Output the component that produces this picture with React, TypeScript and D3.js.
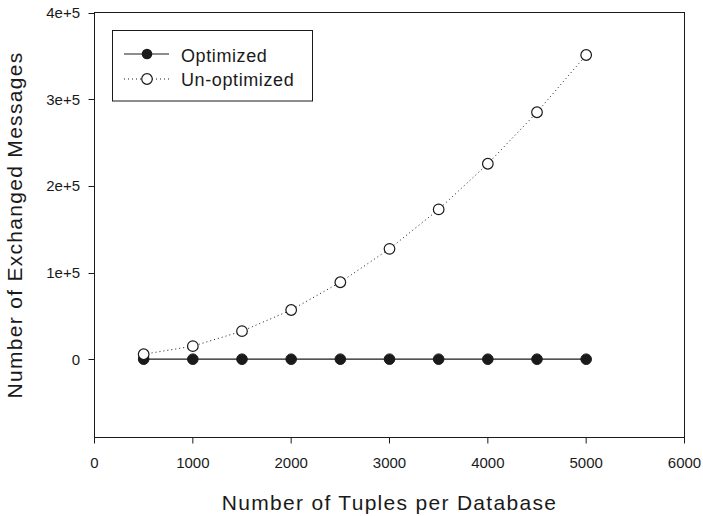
import React from "react";
import * as d3 from "d3";

const tuples = [500, 1000, 1500, 2000, 2500, 3000, 3500, 4000, 4500, 5000];
const optimized = [300, 300, 300, 300, 300, 300, 300, 300, 300, 300];
const unoptimized = [6000, 15300, 32600, 57000, 89000, 127500, 173000, 225600, 285000, 351000];
const xTicks = [0, 1000, 2000, 3000, 4000, 5000, 6000];
const yTicks = [0, 100000, 200000, 300000, 400000];
const yTickLabels = ["0", "1e+5", "2e+5", "3e+5", "4e+5"];
const seriesNames = ["Optimized", "Un-optimized"];

const W = 703, H = 516;
const L = 94.5, R = 684.5, T = 12.5, B = 437.5;
const font = "'Liberation Sans', Arial, sans-serif";

export default function App() {
  const x = d3.scaleLinear().domain([0, 6000]).range([L, R]);
  const y = d3.scaleLinear().domain([-90000, 400000]).range([B, T]);
  const line = d3.line<[number, number]>().x(d => x(d[0])).y(d => y(d[1]));
  const optPts = tuples.map((t, i) => [t, optimized[i]] as [number, number]);
  const unPts = tuples.map((t, i) => [t, unoptimized[i]] as [number, number]);
  const c = "#1a1a1a";
  return (
    <svg width={W} height={H} style={{ position: "absolute", left: 0, top: 0, background: "#fff" }}>
      <rect x={L} y={T} width={R - L} height={B - T} fill="none" stroke={c} strokeWidth={1} />
      {xTicks.map(t => (
        <g key={t}>
          <line x1={x(t)} x2={x(t)} y1={B} y2={B + 6} stroke={c} />
          <text x={x(t)} y={468} textAnchor="middle" fontFamily={font} fontSize={15} fill={c}>{t}</text>
        </g>
      ))}
      {yTicks.map((t, i) => (
        <g key={t}>
          <line x1={L - 6} x2={L} y1={Math.round(y(t)) + 0.5} y2={Math.round(y(t)) + 0.5} stroke={c} />
          <text x={80} y={y(t) + 5.5} textAnchor="end" fontFamily={font} fontSize={15} fill={c}>{yTickLabels[i]}</text>
        </g>
      ))}
      <text x={(L + R) / 2} y={510} textAnchor="middle" fontFamily={font} fontSize={21} letterSpacing={1.3} fill={c}>Number of Tuples per Database</text>
      <text transform={`translate(22,${(T + B) / 2}) rotate(-90)`} textAnchor="middle" fontFamily={font} fontSize={21} letterSpacing={1.3} fill={c}>Number of Exchanged Messages</text>
      <path d={line(unPts) || ""} fill="none" stroke={c} strokeWidth={1} strokeDasharray="1,3" />
      <path d={line(optPts) || ""} fill="none" stroke={c} strokeWidth={1.2} />
      {optPts.map((p, i) => (
        <circle key={"o" + i} cx={x(p[0])} cy={y(p[1])} r={5.3} fill={c} stroke={c} />
      ))}
      {unPts.map((p, i) => (
        <circle key={"u" + i} cx={x(p[0])} cy={y(p[1])} r={5.3} fill="#fff" stroke={c} strokeWidth={1.2} />
      ))}
      <rect x={112.5} y={30.5} width={200} height={70.5} fill="#fff" stroke={c} strokeWidth={1} />
      <line x1={124} x2={169} y1={54} y2={54} stroke={c} strokeWidth={1.2} />
      <circle cx={147} cy={54} r={5.3} fill={c} />
      <line x1={124} x2={169} y1={79} y2={79} stroke={c} strokeWidth={1} strokeDasharray="1,3" />
      <circle cx={147} cy={79} r={5.3} fill="#fff" stroke={c} strokeWidth={1.2} />
      <text x={181} y={61.5} fontFamily={font} fontSize={18} letterSpacing={0.6} fill={c}>{seriesNames[0]}</text>
      <text x={181} y={86} fontFamily={font} fontSize={18} letterSpacing={0.6} fill={c}>{seriesNames[1]}</text>
    </svg>
  );
}
